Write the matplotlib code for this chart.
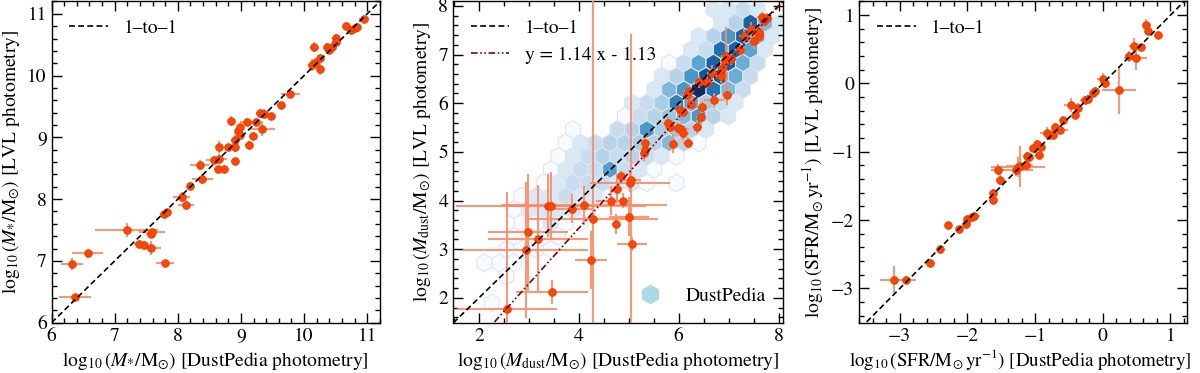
import numpy as np
import matplotlib
matplotlib.use('Agg')
import matplotlib.pyplot as plt
from matplotlib.colors import LogNorm
from matplotlib.lines import Line2D
from matplotlib.ticker import MultipleLocator

plt.rcParams['font.family'] = ['STIXGeneral', 'DejaVu Serif']
plt.rcParams['mathtext.fontset'] = 'stix'
plt.rcParams['font.size'] = 14

# --- panel 1: stellar mass ---
ms_x = [6.32, 6.57, 6.37, 7.19, 7.38, 7.46, 7.58, 7.58, 7.59, 7.80, 7.78, 7.83, 8.06, 8.13,
        8.20, 8.35, 8.39, 8.57, 8.63, 8.66, 8.66, 8.73, 8.80, 8.85, 8.90, 8.90, 8.90, 8.96,
        8.99, 8.99, 9.09, 9.13, 9.19, 9.24, 9.30, 9.34, 9.36, 9.48, 9.63, 9.78, 10.13, 10.17,
        10.16, 10.26, 10.26, 10.37, 10.40, 10.44, 10.50, 10.50, 10.66, 10.75, 10.80, 10.84, 10.95]
ms_y = [6.95, 7.12, 6.41, 7.50, 7.27, 7.26, 7.21, 7.44, 7.46, 6.96, 7.76, 7.79, 8.04, 7.91,
        8.22, 8.55, 8.32, 8.64, 8.48, 8.84, 8.65, 8.48, 8.84, 9.26, 8.84, 8.62, 8.96, 9.10,
        9.16, 9.04, 9.25, 8.88, 9.03, 9.25, 9.40, 9.14, 9.38, 9.35, 9.52, 9.71, 10.17, 10.21,
        10.47, 10.28, 10.11, 10.46, 10.41, 10.47, 10.61, 10.55, 10.80, 10.74, 10.77, 10.78, 10.92]
ms_xerr = [0.17, 0.24, 0.26, 0.50, 0.08, 0.08, 0.15, 0.08, 0.20, 0.14, 0.06, 0.06, 0.13, 0.13,
           0.06, 0.15, 0.17, 0.12, 0.06, 0.06, 0.12, 0.06, 0.06, 0.06, 0.06, 0.06, 0.06, 0.06,
           0.06, 0.06, 0.10, 0.06, 0.06, 0.06, 0.06, 0.20, 0.06, 0.06, 0.06, 0.15, 0.06, 0.06,
           0.06, 0.06, 0.06, 0.06, 0.06, 0.06, 0.06, 0.06, 0.06, 0.06, 0.06, 0.06, 0.08]
ms_yerr = [0.10, 0.08, 0.06, 0.12, 0.06, 0.06, 0.12, 0.06, 0.06, 0.04, 0.05, 0.05, 0.08, 0.08,
           0.05, 0.08, 0.08, 0.06, 0.05, 0.10, 0.08, 0.04, 0.05, 0.08, 0.08, 0.05, 0.08, 0.06,
           0.06, 0.06, 0.06, 0.06, 0.06, 0.06, 0.06, 0.12, 0.08, 0.05, 0.06, 0.06, 0.10, 0.08,
           0.08, 0.06, 0.10, 0.06, 0.06, 0.06, 0.06, 0.06, 0.06, 0.05, 0.05, 0.05, 0.05]

# --- panel 2: dust mass ---
md_x = [2.57, 2.94, 2.99, 3.18, 3.39, 3.44, 3.47, 3.87, 4.11, 4.28, 4.24, 4.65, 4.74, 4.76,
        4.85, 4.88, 5.01, 5.03, 5.05, 5.07, 5.30, 5.32, 5.33,
        5.79, 5.82, 5.89, 5.98, 6.02, 6.05, 6.09, 6.08, 6.18, 6.24, 6.16, 6.20, 6.37, 6.44,
        6.47, 6.40, 6.57, 6.67, 6.71, 6.84, 6.86, 6.92, 6.94, 6.97, 7.04, 7.23, 7.31, 7.44,
        7.50, 7.60, 7.61, 7.66, 7.71, 7.76]
md_y = [1.77, 2.99, 3.35, 3.21, 3.89, 3.88, 2.12, 3.83, 3.90, 3.61, 2.78, 4.00, 3.52, 4.24,
        4.50, 4.00, 3.67, 4.37, 4.43, 3.11, 4.97, 5.03, 5.19,
        5.59, 5.51, 5.17, 5.49, 5.86, 5.47, 5.39, 5.81, 5.19, 5.99, 6.17, 6.26, 5.51, 5.71,
        5.92, 6.43, 6.43, 6.63, 6.06, 6.56, 6.72, 6.86, 6.97, 6.17, 6.90, 7.10, 7.38, 7.52,
        7.27, 7.38, 7.47, 7.77, 7.68, 7.75]
md_xerr = [1.00, 1.25, 0.80, 1.00, 0.90, 1.90, 0.72, 0.40, 1.65, 1.30, 0.32, 0.30, 0.08, 0.10,
           0.10, 0.10, 0.40, 0.80, 0.20, 0.30, 0.05, 0.05, 0.05,
           0.10, 0.10, 0.10, 0.15, 0.10, 0.15, 0.12, 0.10, 0.10, 0.10, 0.10, 0.10, 0.10, 0.10,
           0.10, 0.10, 0.10, 0.10, 0.20, 0.10, 0.10, 0.10, 0.10, 0.10, 0.10, 0.10, 0.10, 0.10,
           0.12, 0.10, 0.10, 0.10, 0.10, 0.10]
md_yerr = [2.40, 1.40, 1.20, 1.10, 0.65, 0.70, 0.25, 0.30, 0.40, 6.00, 0.60, 0.30, 0.20, 0.30,
           0.10, 0.15, 0.40, 0.20, 3.00, 0.15, 0.15, 0.10, 0.15,
           0.12, 0.10, 0.20, 0.12, 0.15, 0.12, 0.15, 0.12, 0.12, 0.15, 0.12, 0.10, 0.15, 0.15,
           0.12, 0.12, 0.12, 0.15, 0.15, 0.15, 0.12, 0.15, 0.60, 0.20, 0.12, 0.12, 0.15, 0.15,
           0.15, 0.12, 0.12, 0.10, 0.10, 0.10]

# DustPedia hexbin cells (centre x, centre y, count)
dp_x = [6.70, 6.99, 7.29, 7.58,
        6.84, 7.14, 7.44, 7.73, 8.03,
        6.40, 6.70, 6.99, 7.29, 7.58, 7.88,
        6.25, 6.55, 6.84, 7.14, 7.44, 7.73,
        5.81, 6.10, 6.40, 6.70, 6.99, 7.29, 7.58,
        5.66, 5.96, 6.25, 6.55, 6.84, 7.14, 7.44,
        5.51, 5.81, 6.10, 6.40, 6.70, 6.99, 7.29,
        5.07, 5.36, 5.66, 5.96, 6.25, 6.55, 6.84, 7.14,
        4.92, 5.22, 5.51, 5.81, 6.10, 6.40, 6.70, 6.99,
        3.88, 4.77, 5.07, 5.36, 5.66, 5.96, 6.25, 6.55,
        3.74, 4.03, 4.33, 4.62, 4.92, 5.22, 5.51, 5.81, 6.10, 6.40,
        3.59, 3.88, 4.18, 4.48, 4.77, 5.07, 5.36, 5.66, 5.96,
        3.44, 3.74, 4.03, 4.33, 4.62, 4.92, 5.22, 5.51,
        3.29, 3.59, 3.88, 4.18, 4.48, 4.77, 5.07, 5.36, 5.96,
        2.85, 3.14, 3.44, 3.74, 4.03, 4.33, 4.62,
        2.70, 3.00, 3.29, 3.59, 3.88, 4.18,
        2.85, 3.14, 3.44, 3.74, 4.03,
        2.70, 3.00, 3.29, 3.59,
        2.55, 2.85, 3.14, 3.44,
        2.11, 2.40, 2.70,
        2.55,
        2.26]
dp_y = [7.92] * 4 + [7.65] * 5 + [7.38] * 6 + [7.10] * 6 + [6.83] * 7 + [6.55] * 7 \
    + [6.28] * 7 + [6.01] * 8 + [5.73] * 8 + [5.46] * 8 + [5.18] * 10 + [4.91] * 9 \
    + [4.64] * 8 + [4.36] * 9 + [4.09] * 7 + [3.81] * 6 + [3.54] * 5 + [3.27] * 4 \
    + [2.99] * 4 + [2.72] * 3 + [2.44] + [1.90]
dp_n = [2, 2, 3, 2,
        2, 4, 40, 8, 2,
        2, 4, 16, 40, 10, 2,
        2, 3, 32, 40, 12, 2,
        1, 3, 12, 40, 45, 10, 3,
        2, 4, 16, 50, 40, 10, 3,
        2, 8, 16, 100, 30, 8, 3,
        2, 3, 5, 24, 12, 5, 3, 2,
        1, 3, 4, 6, 8, 16, 4, 2,
        1, 3, 4, 16, 5, 6, 4, 2,
        1, 2, 3, 4, 4, 5, 4, 8, 4, 1,
        1, 2, 3, 4, 3, 4, 3, 2, 1,
        1, 2, 3, 3, 14, 3, 2, 1,
        1, 2, 3, 3, 3, 2, 2, 1, 1,
        1, 2, 2, 3, 2, 2, 1,
        1, 2, 2, 2, 2, 1,
        1, 1, 2, 1, 1,
        1, 1, 1, 1,
        1, 1, 1, 1,
        1, 1, 1,
        1,
        1]

fit_slope, fit_icpt = 1.14, -1.13

# --- panel 3: SFR ---
sf_x = [-3.09, -2.91, -2.55, -2.41, -2.29, -2.12, -2.02, -2.01, -1.94, -1.90, -1.63, -1.62,
        -1.55, -1.52, -1.28, -1.25, -1.23, -1.14, -1.12, -1.09, -1.03, -0.97, -0.95, -0.91,
        -0.83, -0.80, -0.74, -0.70, -0.64, -0.59, -0.47, -0.41, -0.36, -0.26, -0.22, -0.15,
        -0.12, 0.00, 0.03, 0.24, 0.38, 0.46, 0.49, 0.56, 0.64, 0.67, 0.82]
sf_y = [-2.87, -2.88, -2.62, -2.42, -2.07, -2.13, -2.06, -1.98, -1.96, -1.94, -1.71, -1.60,
        -1.26, -1.41, -1.27, -1.22, -1.21, -1.19, -1.06, -1.07, -0.95, -0.88, -1.05, -0.93,
        -0.72, -0.75, -0.75, -0.64, -0.68, -0.54, -0.31, -0.46, -0.36, -0.24, -0.22, -0.14,
        -0.11, 0.06, 0.00, -0.10, 0.40, 0.55, 0.38, 0.54, 0.85, 0.77, 0.71]
sf_xerr = [0.20, 0.15, 0.04, 0.04, 0.03, 0.03, 0.04, 0.04, 0.05, 0.08, 0.03, 0.03,
           0.10, 0.06, 0.25, 0.40, 0.20, 0.10, 0.05, 0.05, 0.05, 0.05, 0.05, 0.05,
           0.10, 0.06, 0.05, 0.05, 0.12, 0.04, 0.10, 0.04, 0.05, 0.08, 0.05, 0.04,
           0.04, 0.08, 0.05, 0.25, 0.05, 0.08, 0.17, 0.05, 0.04, 0.04, 0.06]
sf_yerr = [0.20, 0.06, 0.04, 0.04, 0.03, 0.03, 0.03, 0.04, 0.04, 0.04, 0.06, 0.06,
           0.08, 0.08, 0.08, 0.15, 0.30, 0.08, 0.06, 0.06, 0.05, 0.06, 0.05, 0.05,
           0.08, 0.05, 0.05, 0.06, 0.05, 0.04, 0.10, 0.04, 0.08, 0.05, 0.05, 0.04,
           0.04, 0.10, 0.06, 0.35, 0.08, 0.12, 0.18, 0.04, 0.10, 0.05, 0.04]

pt_kw = dict(fmt='o', ms=5.5, mfc='#ff4500', mec='#e63b00', mew=0.6,
             ecolor='#ff8a65', elinewidth=1.3, capsize=0, zorder=3)

fig = plt.figure(figsize=(12, 3.73), dpi=100)
ax1 = fig.add_axes([0.043, 0.135, 0.2735, 0.861])
ax2 = fig.add_axes([0.3775, 0.135, 0.275, 0.861])
ax3 = fig.add_axes([0.716, 0.135, 0.2735, 0.861])


def style(ax, xlim, ylim, xmaj, xmin, ymaj, ymin):
    ax.set_xlim(*xlim)
    ax.set_ylim(*ylim)
    ax.xaxis.set_major_locator(MultipleLocator(xmaj))
    ax.xaxis.set_minor_locator(MultipleLocator(xmin))
    ax.yaxis.set_major_locator(MultipleLocator(ymaj))
    ax.yaxis.set_minor_locator(MultipleLocator(ymin))
    ax.tick_params(which='both', direction='in', top=True, right=True, width=1)
    ax.tick_params(which='major', length=7, labelsize=14)
    ax.tick_params(which='minor', length=3.5)
    for s in ax.spines.values():
        s.set_linewidth(1)


one = np.array([-10, 20])

# panel 1
ax1.errorbar(ms_x, ms_y, xerr=ms_xerr, yerr=ms_yerr, **pt_kw)
ax1.plot(one, one, 'k--', lw=1.2, dashes=(3.5, 2), label='1\u2013to\u20131', zorder=4)
style(ax1, (6, 11.2), (6, 11.2), 1, 0.2, 1, 0.2)
ax1.set_xlabel(r'$\log_{10}(M_{*}/\mathrm{M}_{\odot})$ [DustPedia photometry]')
ax1.set_ylabel(r'$\log_{10}(M_{*}/\mathrm{M}_{\odot})$ [LVL photometry]')
ax1.legend(loc='upper left', frameon=False, handlelength=2.0)

# panel 2
ax2.hexbin(dp_x, dp_y, C=dp_n, reduce_C_function=np.sum, gridsize=(25, 14),
           extent=(1.664, 9.064, 0.80, 8.472), cmap='Blues', norm=LogNorm(1, 100),
           edgecolors='#dfe6ee', linewidths=0.8, zorder=1)
ax2.errorbar(md_x, md_y, xerr=md_xerr, yerr=md_yerr, **pt_kw)
l1, = ax2.plot(one, one, 'k--', lw=1.2, dashes=(3.5, 2), label='1\u2013to\u20131', zorder=4)
l2, = ax2.plot(one, fit_slope * one + fit_icpt, color='#8b0000', lw=1.2,
               dashes=(4, 1.5, 1, 1.5, 1, 1.5), label='y = 1.14 x - 1.13', zorder=4)
style(ax2, (1.48, 8.09), (1.49, 8.09), 2, 0.5, 1, 0.2)
ax2.set_xlabel(r'$\log_{10}(M_\mathrm{dust}/\mathrm{M}_{\odot})$ [DustPedia photometry]')
ax2.set_ylabel(r'$\log_{10}(M_\mathrm{dust}/\mathrm{M}_{\odot})$ [LVL photometry]')
leg = ax2.legend(handles=[l1, l2], loc='upper left', frameon=False, handlelength=2.0)
ax2.add_artist(leg)
hex_h = Line2D([], [], ls='none', marker='h', ms=13, color='#add8e6', label='DustPedia')
ax2.legend(handles=[hex_h], loc='lower right', frameon=False)

# panel 3
ax3.errorbar(sf_x, sf_y, xerr=sf_xerr, yerr=sf_yerr, **pt_kw)
ax3.plot(one, one, 'k--', lw=1.2, dashes=(3.5, 2), label='1\u2013to\u20131', zorder=4)
style(ax3, (-3.6, 1.25), (-3.5, 1.2), 1, 0.2, 1, 0.2)
ax3.set_xlabel(r'$\log_{10}(\mathrm{SFR}/\mathrm{M}_{\odot}\,\mathrm{yr}^{-1})$ [DustPedia photometry]',
               fontsize=13.6)
ax3.xaxis.set_label_coords(0.49, -0.075)
ax3.set_ylabel(r'$\log_{10}(\mathrm{SFR}/\mathrm{M}_{\odot}\,\mathrm{yr}^{-1})$ [LVL photometry]')
ax3.legend(loc='upper left', frameon=False, handlelength=2.0)

fig.savefig('out.png', dpi=100)
